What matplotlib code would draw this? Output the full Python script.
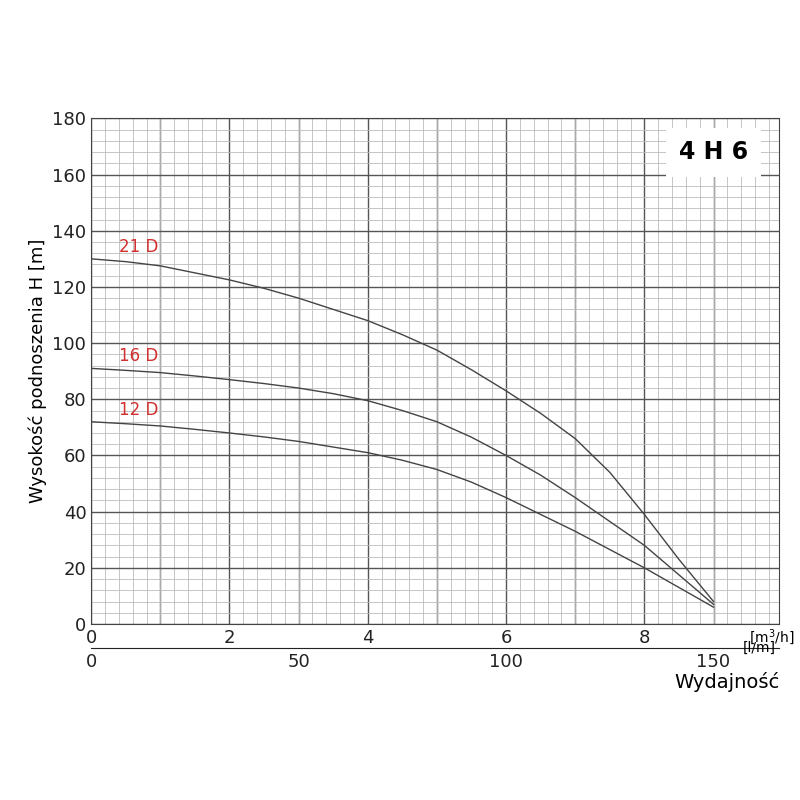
import matplotlib
matplotlib.use("Agg")
import matplotlib.pyplot as plt
from matplotlib.ticker import MultipleLocator

q = [0, 0.5, 1, 1.5, 2, 2.5, 3, 3.5, 4, 4.5, 5, 5.5, 6, 6.5, 7, 7.5, 8, 8.5, 9]
h21 = [130, 129, 127.5, 125, 122.5, 119.5, 116, 112, 108, 103, 97.5, 90.5, 83, 75, 66, 54, 39, 23, 8]
h16 = [91, 90.3, 89.5, 88.3, 87, 85.6, 84, 82, 79.5, 76, 72, 66.5, 60, 53, 45, 36.5, 28, 17.5, 7]
h12 = [72, 71.3, 70.5, 69.3, 68, 66.6, 65, 63, 61, 58.3, 55, 50.5, 45, 39, 33, 26.5, 20, 13, 6]
names = ["21 D", "16 D", "12 D"]
lpm_ticks = [0, 50, 100, 150]

fig = plt.figure(figsize=(8, 8), dpi=100)
ax = fig.add_axes([0.114, 0.22, 0.86, 0.632])
ax.set_xlim(0, 9.95)
ax.set_ylim(0, 180)
ax.xaxis.set_major_locator(MultipleLocator(2))
ax.xaxis.set_minor_locator(MultipleLocator(0.2))
ax.yaxis.set_major_locator(MultipleLocator(20))
ax.yaxis.set_minor_locator(MultipleLocator(4))
ax.grid(which="minor", color="#bbbbbb", lw=0.6)
ax.grid(which="major", color="#555555", lw=1.0)
for v in [1, 3, 5, 7, 9]:
    ax.axvline(v, color="#555555", lw=1.0, zorder=1)
ax.tick_params(which="both", length=0, labelsize=13, colors="#222222")
ax.set_xticks([0, 2, 4, 6, 8])
for s in ax.spines.values():
    s.set_color("#444444")

for h, n in zip([h21, h16, h12], names):
    ax.plot(q, h, color="#444444", lw=1.0, zorder=3)
    ax.text(0.4, h[0] + 2.5, n, color="#d03030", fontsize=12)

ax.text(9.52, 0.5 - 7, "[m$^3$/h]", fontsize=10, transform=ax.transData, clip_on=False)
ax.set_ylabel("Wysokość podnoszenia H [m]", fontsize=13)
ax.text(9.0, 168, "4 H 6", fontsize=17, fontweight="bold", ha="center", va="center",
        bbox=dict(facecolor="white", edgecolor="none", pad=9), zorder=5)

# secondary l/min axis
ax2 = fig.add_axes([0.114, 0.19, 0.86, 0.0])
ax2.set_xlim(0, 9.95 * 50 / 3)
ax2.set_xticks(lpm_ticks)
ax2.tick_params(length=0, labelsize=13, colors="#222222")
for k in ["top", "left", "right"]:
    ax2.spines[k].set_visible(False)
ax2.spines["bottom"].set_color("#222222")
ax2.set_yticks([])
ax2.text(157, 0.5, "[l/m]", fontsize=10, transform=ax2.get_xaxis_transform(), va="center")
fig.text(0.975, 0.14, "Wydajność", fontsize=14, ha="right")

fig.savefig("out.png", dpi=100, facecolor="white")
